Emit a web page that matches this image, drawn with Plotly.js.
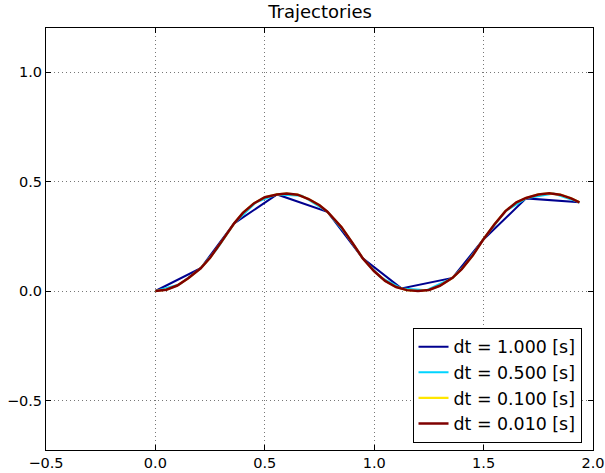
<!DOCTYPE html>
<html><head><meta charset="utf-8">
<script src="https://cdn.plot.ly/plotly-3.0.1.min.js"></script>
<style>body{margin:0;padding:0;background:#fff}#chart{width:605px;height:473px}</style>
</head><body><div id="chart"></div>
<script>
// dt = 1.000 s
const x1 = [0, 0.207, 0.36, 0.556, 0.786, 0.948, 1.124, 1.358, 1.497, 1.694, 1.938];
const y1 = [0, 0.104, 0.309, 0.441, 0.362, 0.149, 0.012, 0.060, 0.233, 0.423, 0.405];
// dt = 0.500 s
const x2 = [0, 0.11, 0.207, 0.28, 0.36, 0.46, 0.556, 0.67, 0.786, 0.87, 0.948, 1.03, 1.124, 1.24, 1.358, 1.42, 1.497, 1.60, 1.694, 1.82, 1.938];
const y2 = [0, 0.030, 0.104, 0.190, 0.309, 0.405, 0.441, 0.435, 0.362, 0.262, 0.149, 0.062, 0.012, 0.004, 0.060, 0.125, 0.233, 0.365, 0.423, 0.445, 0.405];
// dt = 0.100 s
const x3 = [0, 0.05, 0.1, 0.15, 0.207, 0.25, 0.3, 0.36, 0.4, 0.45, 0.5, 0.556, 0.6, 0.65, 0.7, 0.75, 0.786, 0.85, 0.9, 0.948, 1.0, 1.05, 1.1, 1.124, 1.15, 1.2, 1.25, 1.3, 1.358, 1.4, 1.45, 1.497, 1.55, 1.6, 1.65, 1.694, 1.75, 1.8, 1.85, 1.9, 1.938];
const y3 = [0, 0.006, 0.025, 0.058, 0.104, 0.152, 0.222, 0.309, 0.357, 0.400, 0.428, 0.441, 0.445, 0.440, 0.420, 0.392, 0.362, 0.292, 0.220, 0.149, 0.090, 0.046, 0.018, 0.010, 0.004, 0.000, 0.005, 0.024, 0.060, 0.100, 0.162, 0.233, 0.305, 0.365, 0.405, 0.425, 0.441, 0.446, 0.440, 0.423, 0.405];
// dt = 0.010 s
const x4 = [0, 0.05, 0.1, 0.15, 0.207, 0.25, 0.3, 0.36, 0.4, 0.45, 0.5, 0.556, 0.6, 0.65, 0.7, 0.75, 0.786, 0.85, 0.9, 0.948, 1.0, 1.05, 1.1, 1.124, 1.15, 1.2, 1.25, 1.3, 1.358, 1.4, 1.45, 1.497, 1.55, 1.6, 1.65, 1.694, 1.75, 1.8, 1.85, 1.9, 1.938];
const y4 = [0, 0.006, 0.025, 0.058, 0.104, 0.152, 0.222, 0.309, 0.357, 0.400, 0.428, 0.441, 0.445, 0.440, 0.420, 0.392, 0.362, 0.292, 0.220, 0.149, 0.090, 0.046, 0.018, 0.010, 0.004, 0.000, 0.005, 0.024, 0.060, 0.100, 0.162, 0.233, 0.305, 0.365, 0.405, 0.425, 0.441, 0.446, 0.440, 0.423, 0.405];
const names = ['dt = 1.000 [s]', 'dt = 0.500 [s]', 'dt = 0.100 [s]', 'dt = 0.010 [s]'];
const colors = ['#00008f', '#00d4ff', '#ffe600', '#7f0000'];
const xTicks = [-0.5, 0.0, 0.5, 1.0, 1.5, 2.0];
const yTicks = [-0.5, 0.0, 0.5, 1.0];

const xs = [x1, x2, x3, x4], ys = [y1, y2, y3, y4];
const widths = [2, 2, 2.2, 2.5];
const traces = xs.map((x, i) => ({
  x: x, y: ys[i], type: 'scatter', mode: 'lines', name: names[i],
  line: {color: colors[i], width: widths[i], shape: 'linear'}
}));

const fmt = v => (v < 0 ? '\u2212' : '') + Math.abs(v).toFixed(1);
const axisCommon = {
  showline: true, linecolor: '#000', linewidth: 1, mirror: 'allticks',
  ticks: 'inside', ticklen: 5, tickcolor: '#000', tickwidth: 1,
  showgrid: true, gridcolor: '#777', griddash: '1px,3px', gridwidth: 1,
  zeroline: false, tickfont: {family: 'DejaVu Sans', size: 14.5, color: '#000'}
};
const layout = {
  width: 605, height: 473,
  margin: {l: 46, r: 11.5, t: 28, b: 23},
  paper_bgcolor: '#fff', plot_bgcolor: '#fff',
  title: {text: 'Trajectories', font: {family: 'DejaVu Sans', size: 18, color: '#000'}, x: 0.529, xanchor: 'center', y: 0.975, yanchor: 'middle'},
  xaxis: Object.assign({}, axisCommon, {range: [-0.5, 2.0], tickvals: xTicks, ticktext: xTicks.map(fmt)}),
  yaxis: Object.assign({}, axisCommon, {range: [-0.726, 1.201], tickvals: yTicks, ticktext: yTicks.map(fmt)}),
  showlegend: true,
  legend: {x: 0.979, y: 0.017, xanchor: 'right', yanchor: 'bottom', bgcolor: '#fff', bordercolor: '#000', borderwidth: 1,
    font: {family: 'DejaVu Sans', size: 17.4, color: '#000'}, tracegroupgap: 0}
};
Plotly.newPlot('chart', traces, layout, {displayModeBar: false, staticPlot: true});
</script></body></html>
